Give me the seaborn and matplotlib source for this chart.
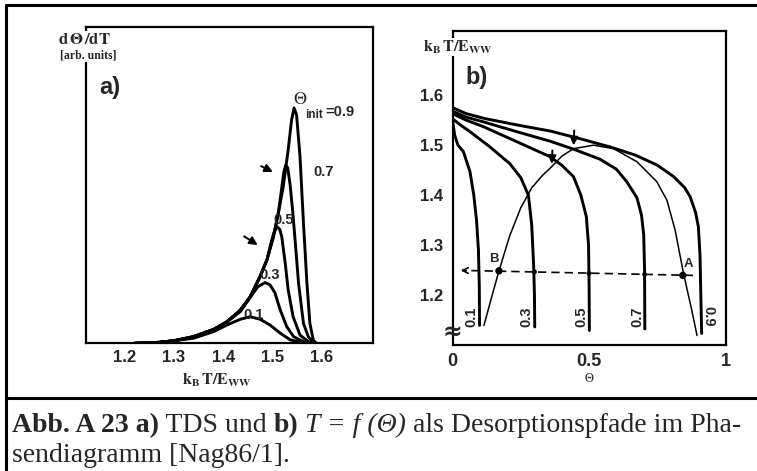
import matplotlib
matplotlib.use("Agg")
import matplotlib.pyplot as plt
import seaborn as sns

# %% values
# a) TDS spectra: x = kB T / E_WW, y = height as fraction of the axes
t_a09 = [1.22, 1.27, 1.30, 1.34, 1.381, 1.408, 1.435, 1.455, 1.475, 1.489, 1.502, 1.512,
         1.522, 1.532, 1.539, 1.544, 1.549, 1.556, 1.563, 1.570, 1.576, 1.583, 1.589]
r_a09 = [0.0, 0.003, 0.008, 0.021, 0.044, 0.068, 0.105, 0.147, 0.211, 0.264, 0.337, 0.411,
         0.496, 0.612, 0.707, 0.744, 0.722, 0.59, 0.38, 0.19, 0.063, 0.01, 0.0]
t_a07 = [1.22, 1.27, 1.30, 1.34, 1.381, 1.408, 1.435, 1.455, 1.475, 1.489, 1.502, 1.512,
         1.518, 1.523, 1.527, 1.531, 1.536, 1.541, 1.546, 1.553, 1.563, 1.573, 1.585]
r_a07 = [0.0, 0.003, 0.008, 0.021, 0.044, 0.068, 0.105, 0.147, 0.211, 0.264, 0.337, 0.411,
         0.48, 0.54, 0.563, 0.555, 0.50, 0.42, 0.327, 0.19, 0.063, 0.02, 0.0]
t_a05 = [1.22, 1.27, 1.30, 1.34, 1.381, 1.408, 1.435, 1.455, 1.475, 1.489, 1.496, 1.502,
         1.509, 1.515, 1.519, 1.526, 1.532, 1.542, 1.556, 1.573, 1.585]
r_a05 = [0.0, 0.003, 0.008, 0.021, 0.044, 0.068, 0.105, 0.147, 0.211, 0.264, 0.31, 0.345,
         0.369, 0.36, 0.337, 0.253, 0.169, 0.084, 0.026, 0.005, 0.0]
t_a03 = [1.22, 1.27, 1.30, 1.34, 1.381, 1.408, 1.435, 1.455, 1.47, 1.485, 1.495, 1.505,
         1.516, 1.529, 1.543, 1.563, 1.585]
r_a03 = [0.0, 0.003, 0.008, 0.021, 0.044, 0.068, 0.10, 0.145, 0.178, 0.192, 0.185, 0.16,
         0.105, 0.053, 0.021, 0.005, 0.0]
t_a01 = [1.22, 1.27, 1.30, 1.34, 1.381, 1.408, 1.435, 1.455, 1.475, 1.495, 1.516, 1.536, 1.556, 1.57]
r_a01 = [0.0, 0.003, 0.008, 0.016, 0.037, 0.058, 0.076, 0.084, 0.076, 0.058, 0.032, 0.011, 0.003, 0.0]
labels_a = ["0.7", "0.5", "0.3", "0.1"]

# b) desorption paths T(Theta)
th_b09 = [0.0, 0.05, 0.12, 0.24, 0.36, 0.48, 0.58, 0.67, 0.75, 0.81, 0.85, 0.87, 0.89, 0.90, 0.906, 0.909, 0.912]
T_b09 = [1.575, 1.563, 1.553, 1.54, 1.528, 1.511, 1.496, 1.48, 1.46, 1.437, 1.415, 1.397, 1.365, 1.337, 1.28, 1.2, 1.124]
th_b07 = [0.0, 0.05, 0.11, 0.235, 0.357, 0.443, 0.54, 0.60, 0.638, 0.675, 0.692, 0.70, 0.703, 0.704]
T_b07 = [1.568, 1.556, 1.547, 1.527, 1.508, 1.492, 1.472, 1.452, 1.427, 1.395, 1.36, 1.32, 1.25, 1.133]
th_b05 = [0.0, 0.05, 0.113, 0.235, 0.357, 0.40, 0.443, 0.47, 0.49, 0.498, 0.50, 0.501]
T_b05 = [1.563, 1.55, 1.537, 1.507, 1.477, 1.46, 1.437, 1.40, 1.357, 1.30, 1.22, 1.13]
th_b03 = [0.0, 0.03, 0.064, 0.136, 0.21, 0.25, 0.278, 0.29, 0.297, 0.30, 0.301]
T_b03 = [1.553, 1.54, 1.527, 1.497, 1.463, 1.435, 1.40, 1.34, 1.26, 1.2, 1.137]
th_b01 = [0.0, 0.008, 0.02, 0.04, 0.064, 0.078, 0.088, 0.095, 0.098, 0.099]
T_b01 = [1.55, 1.52, 1.50, 1.487, 1.447, 1.40, 1.35, 1.29, 1.22, 1.14]
# phase boundary (thin line)
th_pb = [0.115, 0.145, 0.17, 0.21, 0.25, 0.29, 0.33, 0.363, 0.40, 0.443, 0.516, 0.59,
         0.675, 0.748, 0.785, 0.815, 0.846, 0.876, 0.895]
T_pb = [1.14, 1.20, 1.249, 1.32, 1.375, 1.415, 1.44, 1.457, 1.478, 1.493, 1.50, 1.493,
        1.467, 1.427, 1.39, 1.33, 1.243, 1.17, 1.12]
# dashed isotherm and the points on it
th_dash = [0.88, 0.035]
T_dash = [1.24, 1.25]
th_dots = [0.30, 0.50, 0.703]
T_dots = [1.247, 1.244, 1.242]
th_AB = [0.17, 0.843]
T_AB = [1.249, 1.24]
labels_b = ["0.1", "0.3", "0.5", "0.7", "0.9"]
th_lab_b = [0.07, 0.269, 0.473, 0.677, 0.937]

# %% figure
sns.set_style("white")
plt.rcParams["font.family"] = ["Liberation Serif", "DejaVu Serif"]
plt.rcParams["mathtext.fontset"] = "stix"

W, H = 757, 471
fig = plt.figure(figsize=(W / 100, H / 100), dpi=100)


def fx(x):
    return x / W


def fy(y):
    return 1 - y / H


sans = "Liberation Sans"
lw_thick = 2.1

# %% panel a
ax = fig.add_axes([fx(86), fy(343.3), fx(373 - 86), (343.3 - 27) / H])
for tt, rr in [(t_a09, r_a09), (t_a07, r_a07), (t_a05, r_a05), (t_a03, r_a03), (t_a01, r_a01)]:
    sns.lineplot(x=tt, y=rr, ax=ax, color="black", lw=lw_thick, sort=False)
ax.set_xlim(1.122, 1.704)
ax.set_ylim(0, 1)
ax.set_xticks([1.2, 1.3, 1.4, 1.5, 1.6])
ax.set_xticklabels(["1.2", "1.3", "1.4", "1.5", "1.6"], family=sans, fontsize=12, fontweight="bold")
ax.set_yticks([])
ax.tick_params(axis="x", direction="in", length=7, width=1.3, pad=5)
for s in ax.spines.values():
    s.set_linewidth(1.6)
    s.set_color("black")

ax.text(1.148, 0.808, "a)", family=sans, fontsize=17, fontweight="bold", va="center")
ax.text(1.557, 0.77, r"$\Theta$", fontsize=13, ha="center", va="center")
ax.text(1.566, 0.722, "init", family=sans, fontsize=8.5, fontweight="bold", va="center")
ax.text(1.607, 0.732, "=0.9", family=sans, fontsize=10.5, fontweight="bold", va="center")
for lab, tx, hy in zip(labels_a, [1.603, 1.522, 1.495, 1.461], [0.542, 0.39, 0.216, 0.09]):
    ax.text(tx, hy, lab, family=sans, fontsize=10.5, fontweight="bold", ha="center", va="center")
for (x0, y0), (x1, y1) in [((1.472, 0.564), (1.506, 0.538)), ((1.438, 0.343), (1.475, 0.306))]:
    ax.annotate("", xy=(x1, y1), xytext=(x0, y0),
                arrowprops=dict(arrowstyle="-|>", color="black", lw=1.4, mutation_scale=12))

fig.text(fx(84), fy(40), r"$\mathbf{d\,\Theta\,/dT}$", fontsize=12, ha="center", va="center",
         bbox=dict(fc="white", ec="none", pad=0.5))
fig.text(fx(88), fy(55), "[arb. units]", fontsize=8.5, fontweight="bold", ha="center", va="center",
         bbox=dict(fc="white", ec="none", pad=0.5))
fig.text(fx(217), fy(380), r"$\mathbf{k_B\,T/E_{WW}}$", fontsize=11.5, ha="center", va="center")

# %% panel b
bx = fig.add_axes([fx(452.5), fy(345), fx(725.7 - 452.5), (345 - 31) / H])
for tt, rr in [(th_b09, T_b09), (th_b07, T_b07), (th_b05, T_b05), (th_b03, T_b03), (th_b01, T_b01)]:
    sns.lineplot(x=tt, y=rr, ax=bx, color="black", lw=lw_thick, sort=False)
sns.lineplot(x=th_pb, y=T_pb, ax=bx, color="black", lw=1.1, sort=False)
sns.lineplot(x=th_dash, y=T_dash, ax=bx, color="black", lw=1.2, sort=False, linestyle=(0, (5, 3)))
bx.annotate("", xy=(0.02, 1.25), xytext=(0.06, 1.2497),
            arrowprops=dict(arrowstyle="->", color="black", lw=1.2, mutation_scale=10))
sns.scatterplot(x=th_dots, y=T_dots, ax=bx, color="black", s=12, edgecolor="none")
sns.scatterplot(x=th_AB, y=T_AB, ax=bx, color="black", s=28, edgecolor="none")
bx.text(0.15, 1.272, "B", family=sans, fontsize=9.5, fontweight="bold", ha="center", va="center")
bx.text(0.865, 1.262, "A", family=sans, fontsize=9.5, fontweight="bold", ha="center", va="center")
for (xa, y0, y1) in [(0.443, 1.535, 1.494), (0.363, 1.495, 1.457)]:
    bx.annotate("", xy=(xa, y1), xytext=(xa + 0.003, y0),
                arrowprops=dict(arrowstyle="-|>", color="black", lw=1.4, mutation_scale=12))
for lab, tx in zip(labels_b, th_lab_b):
    bx.text(tx, 1.158, lab, family=sans, fontsize=10.5, fontweight="bold", ha="center", va="center",
            rotation=270 if lab == "0.9" else 90)
bx.text(0.09, 1.636, "b)", family=sans, fontsize=17, fontweight="bold", va="center", ha="center")
bx.text(0.0, 1.128, "≈", family="DejaVu Sans", fontsize=17, fontweight="bold", ha="center", va="center")

bx.set_xlim(0, 1)
bx.set_ylim(1.101, 1.728)
bx.set_xticks([0, 0.5, 1])
bx.set_xticklabels(["0", "0.5", "1"], family=sans, fontsize=13, fontweight="bold")
bx.set_yticks([1.2, 1.3, 1.4, 1.5, 1.6])
bx.set_yticklabels(["1.2", "1.3", "1.4", "1.5", "1.6"], family=sans, fontsize=12, fontweight="bold")
bx.tick_params(axis="both", direction="in", length=7, width=1.3)
bx.tick_params(axis="x", pad=6)
bx.tick_params(axis="y", pad=7)
for s in bx.spines.values():
    s.set_linewidth(1.6)
    s.set_color("black")

fig.text(fx(458), fy(47), r"$\mathbf{k_B\,T/E_{WW}}$", fontsize=11.5, ha="center", va="center",
         bbox=dict(fc="white", ec="none", pad=0.5))
fig.text(fx(589), fy(378), r"$\Theta$", fontsize=9, ha="center", va="center")

# %% frame and caption
fig.add_artist(plt.Line2D([fx(6), 1], [fy(5), fy(5)], color="black", lw=2.2))
fig.add_artist(plt.Line2D([fx(6), fx(6)], [fy(5), 0], color="black", lw=2.2))
fig.add_artist(plt.Line2D([fx(6), 1], [fy(398), fy(398)], color="black", lw=2.2))

renderer = fig.canvas.get_renderer()
cap1 = [("Abb. A 23 a)", dict(fontweight="bold")),
        (" TDS und ", dict()),
        ("b)", dict(fontweight="bold")),
        (" ", dict()),
        ("T = f (Θ)", dict(style="italic")),
        (" als Desorptionspfade im Pha-", dict())]
cap2 = [("sendiagramm [Nag86/1].", dict())]
for pieces, ybase in [(cap1, 432), (cap2, 462)]:
    x = 12
    for txt, kw in pieces:
        t = fig.text(fx(x), fy(ybase), txt, fontsize=20, ha="left", va="baseline", **kw)
        x = t.get_window_extent(renderer).x1

fig.savefig("out.png", dpi=100)
